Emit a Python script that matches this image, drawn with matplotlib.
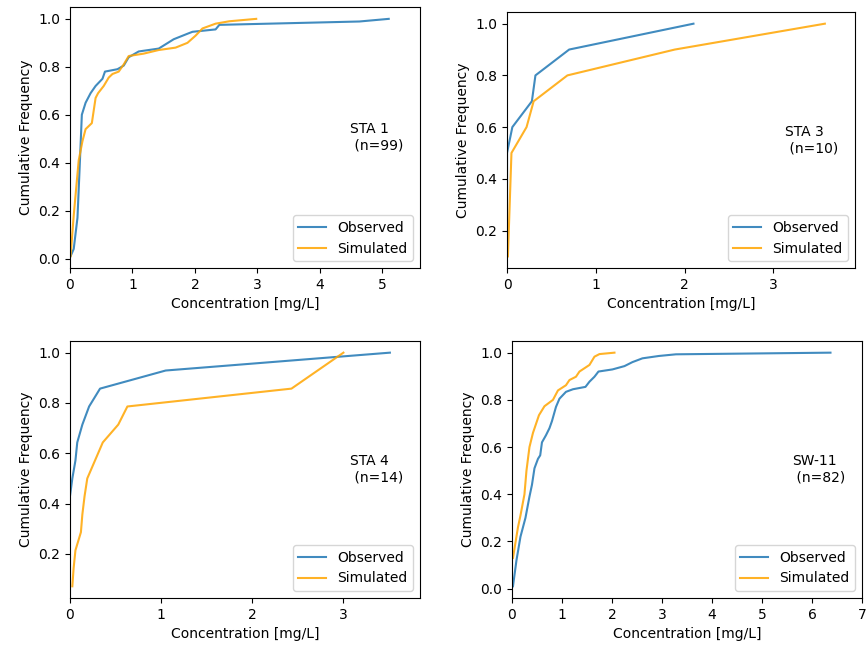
import matplotlib
matplotlib.use('Agg')
import matplotlib.pyplot as plt

# STA 1 (n=99) - cumulative curves
sta1_obs_conc = [0.01, 0.06, 0.12, 0.155, 0.19, 0.25, 0.33, 0.41, 0.52, 0.56, 0.76, 0.86,
                 0.94, 1.10, 1.42, 1.66, 1.90, 1.96, 2.33, 2.39, 4.63, 5.10]
sta1_obs_freq = [0.01, 0.04, 0.17, 0.38, 0.60, 0.65, 0.69, 0.72, 0.75, 0.78, 0.79, 0.805,
                 0.84, 0.864, 0.876, 0.915, 0.94, 0.946, 0.956, 0.975, 0.989, 1.0]
sta1_sim_conc = [0.01, 0.06, 0.14, 0.20, 0.25, 0.35, 0.41, 0.45, 0.54, 0.62, 0.68, 0.78,
                 0.86, 0.94, 1.18, 1.42, 1.69, 1.88, 2.01, 2.12, 2.33, 2.55, 2.98]
sta1_sim_freq = [0.01, 0.18, 0.41, 0.49, 0.54, 0.565, 0.67, 0.69, 0.72, 0.755, 0.77, 0.78,
                 0.81, 0.845, 0.855, 0.87, 0.88, 0.90, 0.93, 0.96, 0.98, 0.99, 1.0]

# STA 3 (n=10)
sta3_obs_conc = [0.0, 0.0, 0.0, 0.0, 0.0, 0.06, 0.28, 0.32, 0.70, 2.10]
sta3_obs_freq = [0.1, 0.2, 0.3, 0.4, 0.5, 0.6, 0.7, 0.8, 0.9, 1.0]
sta3_sim_conc = [0.01, 0.02, 0.03, 0.04, 0.05, 0.22, 0.30, 0.68, 1.89, 3.58]
sta3_sim_freq = [0.1, 0.2, 0.3, 0.4, 0.5, 0.6, 0.7, 0.8, 0.9, 1.0]

# STA 4 (n=14)
sta4_obs_conc = [0.0, 0.0, 0.0, 0.0, 0.0, 0.0, 0.026, 0.06, 0.08, 0.136, 0.21, 0.33, 1.05, 3.51]
sta4_obs_freq = [0.071, 0.143, 0.214, 0.286, 0.357, 0.429, 0.5, 0.571, 0.643, 0.714,
                 0.786, 0.857, 0.929, 1.0]
sta4_sim_conc = [0.026, 0.04, 0.06, 0.12, 0.136, 0.16, 0.19, 0.36, 0.53, 0.63, 2.43, 3.0]
sta4_sim_freq = [0.071, 0.143, 0.214, 0.286, 0.357, 0.429, 0.5, 0.643, 0.714, 0.786,
                 0.857, 1.0]

# SW-11 (n=82)
sw11_obs_conc = [0.02, 0.09, 0.17, 0.27, 0.35, 0.40, 0.45, 0.52, 0.565, 0.60, 0.68, 0.75,
                 0.80, 0.88, 0.95, 1.08, 1.22, 1.47, 1.55, 1.65, 1.73, 2.01, 2.25, 2.41,
                 2.61, 2.94, 3.28, 6.37]
sw11_obs_freq = [0.01, 0.12, 0.22, 0.30, 0.39, 0.44, 0.51, 0.55, 0.565, 0.62, 0.65, 0.68,
                 0.71, 0.77, 0.805, 0.834, 0.845, 0.855, 0.877, 0.898, 0.92, 0.929, 0.943,
                 0.96, 0.976, 0.986, 0.993, 1.0]
sw11_sim_conc = [0.02, 0.12, 0.17, 0.25, 0.29, 0.35, 0.42, 0.54, 0.65, 0.82, 0.92, 1.08,
                 1.15, 1.28, 1.35, 1.55, 1.65, 1.75, 2.05]
sw11_sim_freq = [0.13, 0.26, 0.31, 0.40, 0.50, 0.60, 0.66, 0.735, 0.773, 0.80, 0.84, 0.862,
                 0.884, 0.898, 0.92, 0.948, 0.983, 0.994, 1.0]

panels = [
    ('STA 1\n (n=99)', sta1_obs_conc, sta1_obs_freq, sta1_sim_conc, sta1_sim_freq, 5.6, [0, 1, 2, 3, 4, 5]),
    ('STA 3\n (n=10)', sta3_obs_conc, sta3_obs_freq, sta3_sim_conc, sta3_sim_freq, 3.92, [0, 1, 2, 3]),
    ('STA 4\n (n=14)', sta4_obs_conc, sta4_obs_freq, sta4_sim_conc, sta4_sim_freq, 3.84, [0, 1, 2, 3]),
    ('SW-11\n (n=82)', sw11_obs_conc, sw11_obs_freq, sw11_sim_conc, sw11_sim_freq, 7.0, [0, 1, 2, 3, 4, 5, 6, 7]),
]

# axes boxes in figure fraction [left, bottom, width, height]
boxes = [
    [0.0807, 0.5864, 0.4037, 0.4028],
    [0.5848, 0.5864, 0.4014, 0.3950],
    [0.0807, 0.0772, 0.4037, 0.3966],
    [0.5905, 0.0772, 0.4037, 0.3966],
]

fig = plt.figure(figsize=(8.67, 6.48), dpi=100)

for box, (label, oc, of, sc, sf, xmax, xt) in zip(boxes, panels):
    ax = fig.add_axes(box)
    ax.plot(oc, of, color='#1f77b4', alpha=0.85, label='Observed')
    ax.plot(sc, sf, color='orange', alpha=0.85, label='Simulated')
    ax.set_xlim(0, xmax)
    ax.set_xticks(xt)
    ax.set_xlabel('Concentration [mg/L]')
    ax.set_ylabel('Cumulative Frequency')
    ax.text(0.8, 0.5, label, transform=ax.transAxes, va='center', ha='left')
    ax.legend(loc='lower right')

fig.savefig('out.png', dpi=100)
